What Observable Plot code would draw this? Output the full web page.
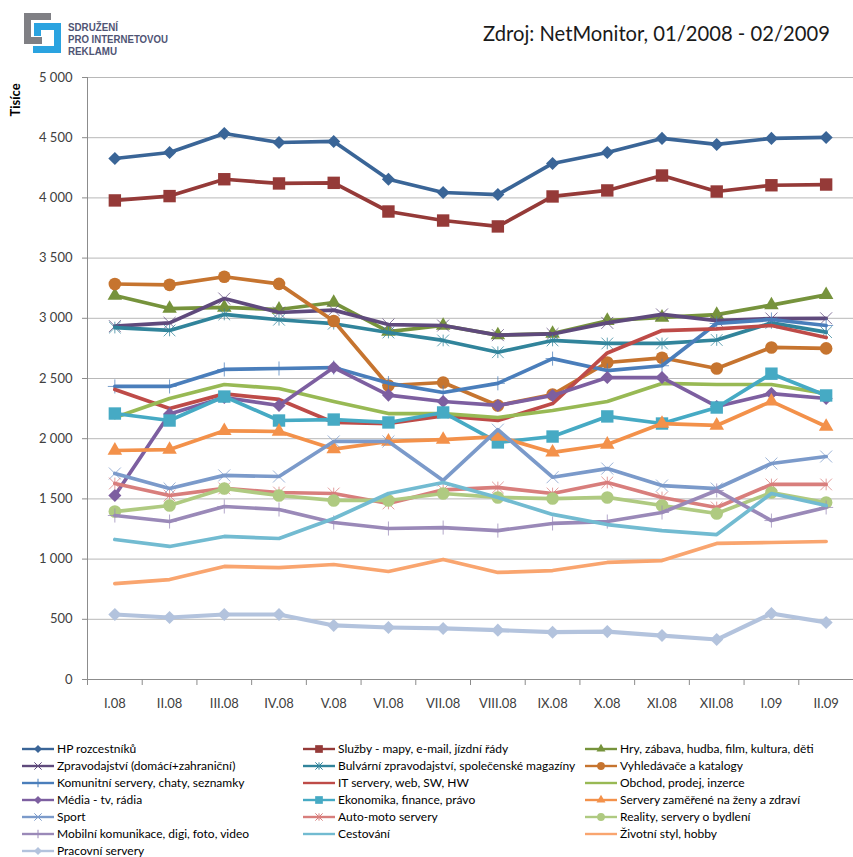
<!DOCTYPE html>
<html><head><meta charset="utf-8">
<script src="https://cdn.jsdelivr.net/npm/d3@7"></script>
<script src="https://cdn.jsdelivr.net/npm/@observablehq/plot@0.6"></script>
<style>
body{margin:0;background:#fff;font-family:Lato,"Open Sans",sans-serif;}
#wrap{position:relative;width:853px;height:857px;overflow:hidden;background:#fff}
#chart{position:absolute;left:0;top:0}
#logo{position:absolute;left:0;top:0}
#title{position:absolute;left:483px;top:21px;font-size:20.2px;color:#1a1a1a;white-space:nowrap}
#ylab{position:absolute;left:15px;top:100px;transform:translate(-50%,-50%) rotate(-90deg);font-weight:bold;font-size:13px;color:#000}
.li{position:absolute;height:12px;display:flex;align-items:center;font-size:12px;line-height:12px;color:#000;white-space:nowrap}
.li svg{margin-right:3px}
</style></head><body>
<div id="wrap">
<div id="chart"></div>
<svg id="logo" width="200" height="60">
  <path d="M24,13H51V20H31V37H42V44H24Z" fill="#7f7f84"/>
  <path d="M34,23H61V53H33V46H54V30H41V36H34Z" fill="#2aa3e0"/>
  <g font-family="'Liberation Sans',Arial,sans-serif" font-weight="bold" font-size="10.8" fill="#4f5474">
    <text x="68" y="31" textLength="50" lengthAdjust="spacingAndGlyphs">SDRUŽENÍ</text>
    <text x="68" y="43" textLength="100" lengthAdjust="spacingAndGlyphs">PRO INTERNETOVOU</text>
    <text x="68" y="54.5" textLength="49" lengthAdjust="spacingAndGlyphs">REKLAMU</text>
  </g>
</svg>
<div id="title">Zdroj: NetMonitor, 01/2008 - 02/2009</div>
<div id="ylab">Tisíce</div>
<div id="legend"></div>
</div>
<script>
const months = ["I.08","II.08","III.08","IV.08","V.08","VI.08","VII.08","VIII.08","IX.08","X.08","XI.08","XII.08","I.09","II.09"];
const names = ["HP rozcestníků","Služby - mapy, e-mail, jízdní řády","Hry, zábava, hudba, film, kultura, děti",
 "Zpravodajství (domácí+zahraniční)","Bulvární zpravodajství, společenské magazíny","Vyhledávače a katalogy",
 "Komunitní servery, chaty, seznamky","IT servery, web, SW, HW","Obchod, prodej, inzerce",
 "Média - tv, rádia","Ekonomika, finance, právo","Servery zaměřené na ženy a zdraví",
 "Sport","Auto-moto servery","Reality, servery o bydlení",
 "Mobilní komunikace, digi, foto, video","Cestování","Životní styl, hobby","Pracovní servery"];
const hp          = [4327,4377,4535,4460,4469,4155,4045,4028,4286,4377,4494,4444,4494,4502];
const sluzby      = [3979,4015,4155,4120,4125,3887,3812,3763,4012,4062,4186,4053,4105,4111];
const hry         = [3189,3081,3090,3073,3131,2890,2940,2860,2873,2980,3007,3030,3110,3195];
const zpravodaj   = [2935,2962,3164,3048,3068,2948,2940,2860,2870,2962,3032,2980,2998,3000];
const bulvarni    = [2923,2899,3032,2988,2955,2882,2816,2718,2816,2791,2791,2820,2962,2885];
const vyhledavace = [3285,3278,3345,3286,2978,2442,2467,2276,2367,2633,2672,2583,2758,2750];
const komunitni   = [2434,2434,2575,2583,2591,2462,2384,2460,2665,2566,2606,2957,2990,2940];
const itServery   = [2409,2251,2372,2326,2135,2126,2190,2151,2292,2712,2898,2912,2940,2840];
const obchod      = [2176,2334,2450,2417,2309,2209,2209,2176,2234,2309,2459,2450,2450,2375];
const media       = [1528,2205,2342,2276,2591,2362,2309,2276,2359,2508,2508,2268,2375,2334];
const ekonomika   = [2209,2151,2350,2151,2159,2135,2218,1969,2018,2185,2126,2259,2540,2359];
const zeny        = [1902,1910,2065,2060,1914,1977,1993,2018,1886,1952,2126,2110,2310,2101];
const sport       = [1711,1587,1695,1686,1977,1977,1653,2075,1680,1752,1611,1586,1794,1852];
const autoMoto    = [1628,1528,1587,1553,1545,1462,1575,1595,1545,1636,1512,1429,1620,1620];
const reality     = [1395,1445,1587,1528,1487,1487,1545,1512,1503,1512,1445,1379,1553,1470];
const mobilni     = [1362,1312,1437,1412,1304,1254,1262,1237,1296,1312,1387,1570,1320,1429];
const cestovani   = [1163,1105,1188,1171,1337,1545,1636,1512,1371,1287,1237,1204,1545,1445];
const zivotni     = [797,830,939,930,955,897,997,889,905,972,988,1130,1138,1146];
const pracovni    = [540,515,540,540,449,432,424,410,393,398,365,332,548,474];
const yTicks = [0,500,1000,1500,2000,2500,3000,3500,4000,4500,5000];

const seriesValues = [hp,sluzby,hry,zpravodaj,bulvarni,vyhledavace,komunitni,itServery,obchod,media,ekonomika,zeny,sport,autoMoto,reality,mobilni,cestovani,zivotni,pracovni];
const colors = ["#3a6597","#953a38","#76933c","#5f4a7c","#31849b","#c6742f",
  "#4a7ebb","#be4b48","#98b954","#7d5fa0","#46aac4","#f3914a",
  "#7b9aca","#d87e7c","#afca81","#9a89b8","#72bbd1","#f9a56f","#b3c3dd"];

const star = {draw(ctx, size){const r=Math.sqrt(size)*0.55;ctx.moveTo(-r,-r);ctx.lineTo(r,r);ctx.moveTo(-r,r);ctx.lineTo(r,-r);ctx.moveTo(0,-r);ctx.lineTo(0,r);}};
// marker: [symbol, r, filled]
const markers = [["diamond2",5.9,true],["square",7,true],["triangle",5.4,true],
  ["times",5.5,false],[star,6,false],["circle",6.3,true],
  ["plus",4.6,false],[null],[null],
  ["diamond2",5.9,true],["square",7,true],["triangle",5.4,true],
  ["times",5.5,false],[star,6,false],["circle",6.3,true],
  ["plus",4.6,false],[null],[null],
  ["diamond2",5.9,true]];

const data = names.map((name,s)=>seriesValues[s].map((v,i)=>({series:name,i,month:months[i],value:v})));
const fmt = d => d >= 1000 ? Math.floor(d/1000)+" "+String(d%1000).padStart(3,"0") : String(d);
const boundaries = d3.range(-0.5, months.length, 1);

const marks = [
  Plot.ruleY(yTicks, {stroke:"#b8b8b8", strokeWidth:1}),
  Plot.ruleX([-0.5], {stroke:"#8c8c8c"}),
  Plot.ruleY([0], {stroke:"#8c8c8c"}),
  Plot.axisY(yTicks, {anchor:"left", label:null, tickSize:5, tickPadding:10, tickFormat:fmt, stroke:"#8c8c8c", fill:"#404040", fontSize:13}),
  Plot.axisX(boundaries, {anchor:"bottom", label:null, tickSize:6, tickFormat:()=>"", stroke:"#8c8c8c"}),
  Plot.axisX(d3.range(months.length), {anchor:"bottom", label:null, tickSize:0, tickPadding:19, tickFormat:i=>months[i], fill:"#404040", fontSize:13})
];
data.forEach((rows,s)=>{
  const c = colors[s];
  marks.push(Plot.lineY(rows, {x:"i", y:"value", stroke:c, strokeWidth: s===18 ? 4.2 : 3.7, strokeLinejoin:"round"}));
  const [sym, r, filled] = markers[s];
  if (sym) {
    marks.push(Plot.dot(rows, filled
      ? {x:"i", y:"value", symbol:sym, r, fill:c, stroke:"none"}
      : {x:"i", y:"value", symbol:sym, r, fill:"none", stroke:c, strokeWidth:1, strokeOpacity:0.75}));
  }
});

const chart = Plot.plot({
  width:853, height:720,
  marginLeft:87, marginRight:0, marginTop:77, marginBottom:41,
  style:{fontFamily:"Lato, 'Open Sans', sans-serif", fontSize:"13px", background:"transparent"},
  x:{domain:[-0.5, months.length-0.5], axis:null},
  y:{domain:[0,5000], axis:null},
  marks
});
document.getElementById("chart").append(chart);

// legend
const legend = d3.select("#legend");
const colX = [22, 303, 585];
names.forEach((name,s)=>{
  const col = s % 3, row = Math.floor(s/3);
  const item = legend.append("div").attr("class","li")
    .style("left", colX[col]+"px").style("top", (743 + row*17)+"px");
  const svg = item.append("svg").attr("width",32).attr("height",12);
  svg.append("line").attr("x1",0).attr("x2",32).attr("y1",6).attr("y2",6)
    .attr("stroke",colors[s]).attr("stroke-width",2.4);
  const [sym, r, filled] = markers[s];
  if (sym) {
    const type = typeof sym === "string" ? {diamond2:d3.symbolDiamond2,square:d3.symbolSquare,triangle:d3.symbolTriangle,times:d3.symbolTimes,circle:d3.symbolCircle,plus:d3.symbolPlus}[sym] : sym;
    const size = Math.PI * (r*0.62)**2;
    svg.append("path").attr("transform","translate(16,6)").attr("d", d3.symbol(type, size)())
      .attr("fill", filled ? colors[s] : "none").attr("stroke", filled ? "none" : colors[s]).attr("stroke-width",1);
  }
  item.append("span").text(name);
});
</script>
</body></html>
